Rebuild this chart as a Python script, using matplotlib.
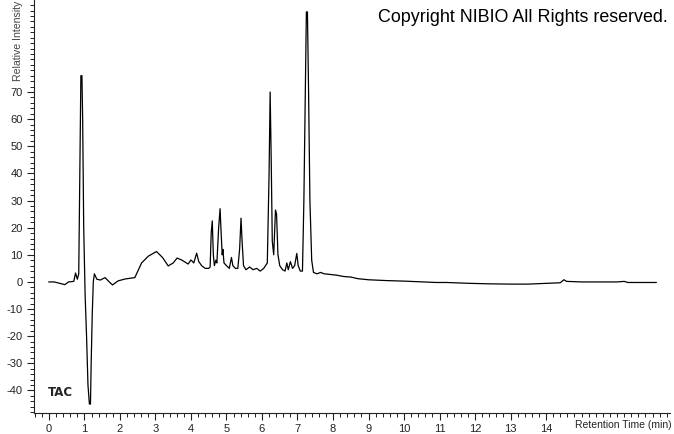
import matplotlib
matplotlib.use("Agg")
import matplotlib.pyplot as plt
from matplotlib.ticker import MultipleLocator

# Chromatogram trace (retention time in min, relative intensity)
times = [
    0.00, 0.15, 0.30, 0.45, 0.55, 0.70, 0.75, 0.80, 0.84, 0.87,
    0.90, 0.93, 0.95, 0.98, 1.02, 1.06, 1.10, 1.14, 1.17, 1.19,
    1.22, 1.25, 1.28, 1.35, 1.45, 1.58, 1.70, 1.79, 1.95, 2.15,
    2.42, 2.61, 2.80, 3.03, 3.20, 3.36, 3.50, 3.61, 3.75, 3.92,
    4.00, 4.08, 4.16, 4.22, 4.30, 4.40, 4.50, 4.54, 4.57, 4.60,
    4.63, 4.66, 4.70, 4.73, 4.78, 4.82, 4.85, 4.88, 4.90, 4.93,
    5.00, 5.08, 5.14, 5.18, 5.25, 5.32, 5.37, 5.41, 5.44, 5.48,
    5.55, 5.65, 5.75, 5.85, 5.95, 6.05, 6.15, 6.20, 6.23, 6.26,
    6.29, 6.33, 6.38, 6.41, 6.45, 6.50, 6.58, 6.65, 6.70, 6.74,
    6.80, 6.86, 6.92, 6.98, 7.02, 7.08, 7.14, 7.18, 7.22, 7.25,
    7.28, 7.31, 7.35, 7.40, 7.45, 7.55, 7.65, 7.75, 7.90, 8.10,
    8.30, 8.50, 8.70, 9.00, 9.50, 10.00, 10.50, 10.90, 11.20, 11.80,
    12.40, 13.00, 13.50, 14.00, 14.40, 14.50, 14.58, 15.00, 16.00, 16.20,
    16.30, 16.60, 17.10,
]
intensity = [
    0.0, 0.0, -0.5, -1.0, 0.0, 0.2, 3.3, 1.0, 3.0, 40.0,
    76.0, 76.0, 60.0, 20.0, -5.0, -20.0, -38.0, -45.0, -45.0, -30.0,
    -12.0, 0.0, 3.0, 1.0, 0.7, 1.6, 0.0, -1.1, 0.4, 1.1,
    1.6, 7.0, 9.5, 11.2, 9.0, 5.9, 7.0, 8.8, 8.0, 6.6,
    8.1, 7.0, 10.6, 7.5, 6.0, 5.0, 5.0, 5.5, 18.0, 22.5,
    10.0, 6.0, 8.0, 7.0, 20.0, 27.0, 18.0, 10.0, 12.0, 7.0,
    6.0, 5.0, 9.0, 6.0, 5.0, 5.0, 12.0, 23.5, 15.0, 6.0,
    4.5, 5.5, 4.5, 5.0, 4.0, 5.0, 7.0, 40.0, 70.0, 45.0,
    15.0, 10.0, 26.5, 25.0, 10.0, 6.0, 4.5, 4.0, 7.0, 4.5,
    7.5, 5.0, 6.0, 10.5, 6.0, 4.0, 4.0, 30.0, 70.0, 99.5,
    99.5, 72.0, 30.0, 8.0, 3.5, 3.0, 3.5, 3.0, 2.8, 2.5,
    2.0, 1.8, 1.2, 0.8, 0.5, 0.3, 0.0, -0.2, -0.2, -0.5,
    -0.7, -0.8, -0.8, -0.5, -0.3, 0.8, 0.2, 0.0, 0.0, 0.2,
    -0.2, -0.2, -0.2,
]

x_ticks = list(range(0, 15))
y_ticks = list(range(-40, 80, 10))

plt.rcParams['font.family'] = ['Liberation Sans', 'DejaVu Sans']
plt.rcParams['axes.unicode_minus'] = False

fig = plt.figure(figsize=(6.74, 4.34), dpi=100)
ax = fig.add_axes([34 / 674, 21 / 434, 636 / 674, 413 / 434])

ax.plot(times, intensity, color='black', linewidth=0.9)

ax.set_xlim(-0.42, 17.49)
ax.set_ylim(-48.3, 103.9)

ax.spines['top'].set_visible(False)
ax.spines['right'].set_visible(False)
ax.spines['left'].set_color('#222222')
ax.spines['bottom'].set_color('#222222')

ax.set_xticks(x_ticks)
ax.set_yticks(y_ticks)
ax.xaxis.set_minor_locator(MultipleLocator(0.2))
ax.yaxis.set_minor_locator(MultipleLocator(2))
ax.tick_params(which='major', length=5, width=0.8, labelsize=8, pad=3, colors='#222222')
ax.tick_params(which='minor', length=3, width=0.7, colors='#222222')

# labels sit inside the tick-label areas like the instrument software does
fig.text(18 / 674, 1 - 1 / 434, "Relative Intensity", rotation=90, ha='center', va='top',
         fontsize=7.6, color='#444444')
fig.text(672 / 674, 6 / 434, "Retention Time (min)", ha='right', va='baseline',
         fontsize=7.5, color='#222222')
fig.text(668 / 674, 1 - 22 / 434, "Copyright NIBIO All Rights reserved.", ha='right',
         va='baseline', fontsize=12.9, color='black')
ax.text(48 / 674, 1 - 392 / 434, "TAC", transform=fig.transFigure, ha='left', va='center',
        fontsize=8.5, fontweight='bold', family='DejaVu Sans', color='#222222')

fig.savefig('out.png', dpi=100)
